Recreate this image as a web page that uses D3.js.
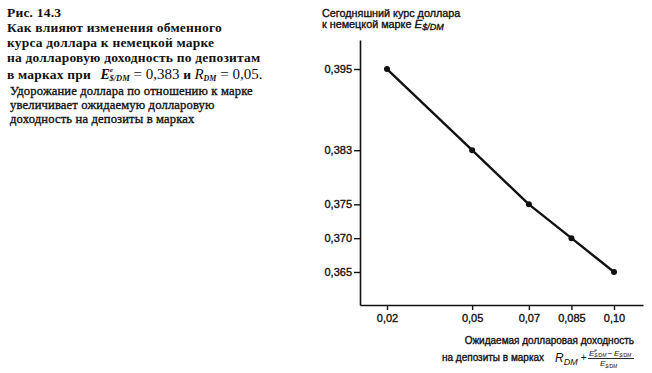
<!DOCTYPE html>
<html><head><meta charset="utf-8">
<script src="https://cdn.jsdelivr.net/npm/d3@7"></script>
<style>
html,body{margin:0;padding:0;background:#fff;}
svg{display:block;}
.heavy{stroke:#111;stroke-width:0.35px;}
</style></head>
<body>
<svg id="c" width="652" height="373"></svg>
<script>
// Data
const returns = [0.02, 0.05, 0.07, 0.085, 0.10];          // expected dollar return on DM deposits
const rates = [0.395, 0.383, 0.375, 0.370, 0.365];         // today's $/DM exchange rate
const xTickValues = [0.02, 0.05, 0.07, 0.085, 0.10];
const xTickLabels = ["0,02", "0,05", "0,07", "0,085", "0,10"];
const yTickValues = [0.395, 0.383, 0.375, 0.370, 0.365];
const yTickLabels = ["0,395", "0,383", "0,375", "0,370", "0,365"];

const svg = d3.select("#c");
const x = d3.scaleLinear().domain([0.010485, 0.11022]).range([360, 643]);
const y = d3.scaleLinear().domain([0.36012, 0.39929]).range([305, 40]);

const sans = "'Liberation Sans', Arial, sans-serif";
const serif = "'Liberation Serif', 'Times New Roman', serif";

// Axes
const xAxis = d3.axisBottom(x).tickValues(xTickValues)
  .tickFormat((d, i) => xTickLabels[i]).tickSize(5).tickSizeOuter(0).tickPadding(4);
const yAxis = d3.axisLeft(y).tickValues(yTickValues)
  .tickFormat((d, i) => yTickLabels[i]).tickSize(6).tickSizeOuter(0).tickPadding(2);

const gx = svg.append("g").attr("transform", "translate(0,305)").call(xAxis);
const gy = svg.append("g").attr("transform", "translate(360,0)").call(yAxis);
[gx, gy].forEach(g => {
  g.select(".domain").attr("stroke", "#111").attr("stroke-width", 1.6);
  g.selectAll(".tick line").attr("stroke", "#111").attr("stroke-width", 1.4);
  g.selectAll(".tick text").attr("fill", "#111").attr("class", "heavy").style("font-family", sans).style("font-size", "11px");
});

// Line
const line = d3.line().x((d, i) => x(returns[i])).y(d => y(d));
svg.append("path").datum(rates).attr("d", line)
  .attr("fill", "none").attr("stroke", "#111").attr("stroke-width", 2.4).attr("stroke-linejoin", "round");
svg.selectAll("circle.pt").data(rates).enter().append("circle")
  .attr("class", "pt").attr("cx", (d, i) => x(returns[i])).attr("cy", d => y(d)).attr("r", 3).attr("fill", "#111");

// Y axis title
const yt = svg.append("text").attr("x", 322).attr("y", 17).attr("class", "heavy").style("font-family", sans).style("font-size", "10.8px").attr("fill", "#111");
yt.text("Сегодняшний курс доллара");
const yt2 = svg.append("text").attr("x", 322).attr("y", 28).attr("class", "heavy").style("font-family", sans).style("font-size", "10.8px").attr("fill", "#111");
yt2.append("tspan").text("к немецкой марке ");
yt2.append("tspan").style("font-style", "italic").style("font-size", "11.5px").text("E");
yt2.append("tspan").style("font-style", "italic").style("font-size", "9px").attr("dy", 2).text("$/DM");

// X axis title
svg.append("text").attr("x", 634).attr("y", 344).attr("text-anchor", "end").attr("class", "heavy")
  .style("font-family", sans).style("font-size", "10px").attr("fill", "#111").text("Ожидаемая долларовая доходность");
svg.append("text").attr("x", 442).attr("y", 361).attr("class", "heavy")
  .style("font-family", sans).style("font-size", "10px").attr("fill", "#111").text("на депозиты в марках");
const rf = svg.append("text").attr("x", 555).attr("y", 362).style("font-family", sans).attr("fill", "#111");
rf.append("tspan").style("font-style", "italic").style("font-size", "12px").text("R");
rf.append("tspan").style("font-style", "italic").style("font-size", "9px").attr("dy", 3).text("DM");
rf.append("tspan").style("font-size", "10px").attr("dx", 3).attr("dy", -4).text("+");
// fraction numerator (one text element)
const num = svg.append("text").attr("x", 589).attr("y", 355.5).style("font-family", sans)
  .style("font-style", "italic").attr("fill", "#111");
num.append("tspan").style("font-size", "8px").text("E");
num.append("tspan").style("font-size", "4.5px").attr("dy", -3.5).text("e");
num.append("tspan").style("font-size", "5px").attr("dx", -2.5).attr("dy", 5).text("$/DM");
num.append("tspan").style("font-size", "8px").style("font-style", "normal").attr("dx", 1.5).attr("dy", -1.5).text("−");
num.append("tspan").style("font-size", "8px").attr("dx", 1.5).text("E");
num.append("tspan").style("font-size", "5px").attr("dy", 1.5).text("$/DM");
svg.append("line").attr("x1", 588).attr("x2", 634).attr("y1", 358.5).attr("y2", 358.5).attr("stroke", "#111").attr("stroke-width", 0.9);
const den = svg.append("text").attr("x", 600).attr("y", 366).style("font-family", sans)
  .style("font-style", "italic").attr("fill", "#111");
den.append("tspan").style("font-size", "8px").text("E");
den.append("tspan").style("font-size", "5px").attr("dy", 1.5).text("$/DM");

// Left caption
const capBold = ["Рис. 14.3", "Как влияют изменения обменного", "курса доллара к немецкой марке", "на долларовую доходность по депозитам"];
const capY = [17, 32, 47, 62];
capBold.forEach((t, i) => {
  svg.append("text").attr("x", 7).attr("y", capY[i]).style("font-family", serif).style("font-weight", "bold")
    .style("font-size", "13.5px").style("letter-spacing", "0.2px").attr("fill", "#111").text(t);
});
const r5 = svg.append("text").attr("x", 7).attr("y", 78.5).style("font-family", serif).attr("fill", "#111");
r5.append("tspan").style("font-weight", "bold").style("font-size", "13.5px").style("letter-spacing", "0.2px").text("в марках при ");
r5.append("tspan").attr("dx", 6).style("font-style", "italic").style("font-weight", "bold").style("font-size", "14px").text("E");
r5.append("tspan").attr("dy", -7).style("font-style", "italic").style("font-weight", "bold").style("font-size", "7px").text("e");
r5.append("tspan").attr("dx", -3.5).attr("dy", 9.5).style("font-style", "italic").style("font-weight", "bold").style("font-size", "8.5px").text("$/DM");
r5.append("tspan").attr("dy", -2.5).style("font-size", "15px").text(" = 0,383 ");
r5.append("tspan").style("font-weight", "bold").style("font-size", "13.5px").text("и ");
r5.append("tspan").style("font-style", "italic").style("font-size", "15px").text("R");
r5.append("tspan").attr("dy", 2).style("font-style", "italic").style("font-weight", "bold").style("font-size", "8px").text("DM");
r5.append("tspan").attr("dy", -2).style("font-size", "15px").text(" = 0,05.");

const capSub = ["Удорожание доллара по отношению к марке", "увеличивает ожидаемую долларовую", "доходность на депозиты в марках"];
const subY = [94.5, 108.5, 122.5];
capSub.forEach((t, i) => {
  svg.append("text").attr("x", 10).attr("y", subY[i]).style("font-family", serif).attr("class", "heavy")
    .style("font-size", "12.6px").style("letter-spacing", "0.15px").attr("fill", "#111").text(t);
});
</script>
</body></html>
